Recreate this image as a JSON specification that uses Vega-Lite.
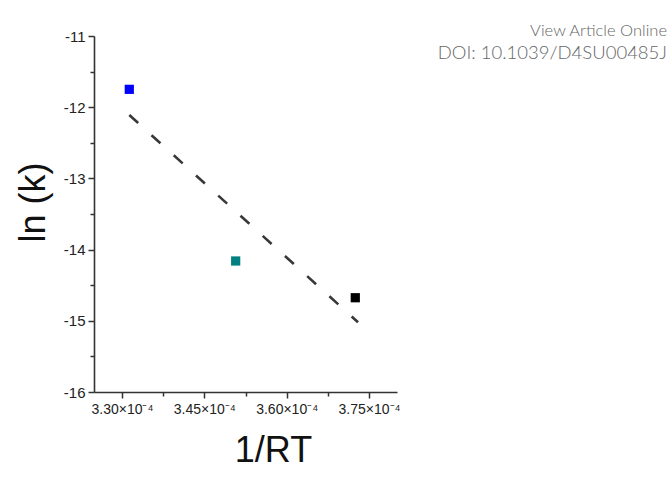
{
  "$schema": "https://vega.github.io/schema/vega-lite/v6.json",
  "width": 303,
  "height": 356,
  "autosize": {"type": "none"},
  "padding": {"left": 94, "top": 36, "right": 273, "bottom": 94},
  "background": "white",
  "title": {
    "text": "View Article Online",
    "subtitle": "DOI: 10.1039/D4SU00485J",
    "anchor": "end",
    "frame": "group",
    "orient": "top",
    "dx": 270,
    "dy": 37,
    "font": "Lato",
    "fontWeight": 300,
    "fontSize": 16.5,
    "color": "#666666",
    "subtitleFont": "Lato",
    "subtitleFontWeight": 300,
    "subtitleFontSize": 18.5,
    "subtitleColor": "#666666",
    "subtitlePadding": 4
  },
  "config": {
    "view": {"stroke": null},
    "axis": {"grid": false}
  },
  "datasets": {
    "fit": [
      {"invRT": 0.00033133, "lnk": -12.11},
      {"invRT": 0.0003730, "lnk": -15.02}
    ],
    "pts": [
      {"invRT": 0.00033133, "lnk": -11.749, "sample": "A"},
      {"invRT": 0.00035071, "lnk": -14.160, "sample": "B"},
      {"invRT": 0.00037250, "lnk": -14.676, "sample": "C"}
    ]
  },
  "layer": [
    {
      "data": {"name": "fit"},
      "mark": {"type": "line", "color": "#383838", "strokeWidth": 2.6, "strokeDash": [12, 18], "strokeCap": "butt"},
      "encoding": {
        "x": {
          "field": "invRT", "type": "quantitative",
          "scale": {"domain": [0.0003249, 0.0003801], "nice": false, "zero": false},
          "axis": {
            "values": [0.00033, 0.000345, 0.00036, 0.000375],
            "labelExpr": "format(datum.value*10000, '.2f') + '×10⁻⁴'",
            "title": "1/RT",
            "titleFont": "Liberation Sans",
            "titleFontSize": 36,
            "titleFontWeight": "normal",
            "titleColor": "#111111",
            "titleX": 179,
            "titleY": 58,
            "titleBaseline": "middle",
            "titleAlign": "center",
            "labelFont": "Liberation Sans",
            "labelFontSize": 14,
            "labelColor": "#222222",
            "labelPadding": 4,
            "tickSize": 6,
            "tickWidth": 1.5,
            "tickColor": "#333333",
            "domainColor": "#333333",
            "domainWidth": 1.6
          }
        },
        "y": {
          "field": "lnk", "type": "quantitative",
          "scale": {"domain": [-16, -11], "nice": false, "zero": false},
          "axis": {
            "values": [-16, -15, -14, -13, -12, -11],
            "labelExpr": "'-' + format(abs(datum.value), 'd')",
            "title": "ln (k)",
            "titleFont": "Liberation Sans",
            "titleFontSize": 36,
            "titleFontWeight": "normal",
            "titleColor": "#111111",
            "titleAngle": -90,
            "titleX": -61,
            "titleY": 166,
            "titleBaseline": "middle",
            "titleAlign": "center",
            "labelFont": "Liberation Sans",
            "labelFontSize": 15,
            "labelColor": "#222222",
            "labelPadding": 3,
            "tickSize": 6,
            "tickWidth": 1.5,
            "tickColor": "#333333",
            "domainColor": "#333333",
            "domainWidth": 1.6
          }
        }
      }
    },
    {
      "data": {"name": "pts"},
      "mark": {"type": "square", "size": 85, "opacity": 1, "filled": true},
      "encoding": {
        "x": {
          "field": "invRT", "type": "quantitative",
          "axis": {
            "orient": "bottom",
            "values": [0.0003375, 0.0003525, 0.0003675],
            "labels": false,
            "domain": false,
            "title": null,
            "tickSize": 4,
            "tickWidth": 1.5,
            "tickColor": "#333333"
          }
        },
        "y": {
          "field": "lnk", "type": "quantitative",
          "axis": {
            "orient": "left",
            "values": [-15.5, -14.5, -13.5, -12.5, -11.5],
            "labels": false,
            "domain": false,
            "title": null,
            "tickSize": 4,
            "tickWidth": 1.5,
            "tickColor": "#333333"
          }
        },
        "color": {
          "field": "sample", "type": "nominal",
          "scale": {"domain": ["A", "B", "C"], "range": ["#0000ff", "#008080", "#000000"]},
          "legend": null
        }
      }
    }
  ],
  "resolve": {
    "scale": {"x": "shared", "y": "shared"},
    "axis": {"x": "independent", "y": "independent"}
  }
}
